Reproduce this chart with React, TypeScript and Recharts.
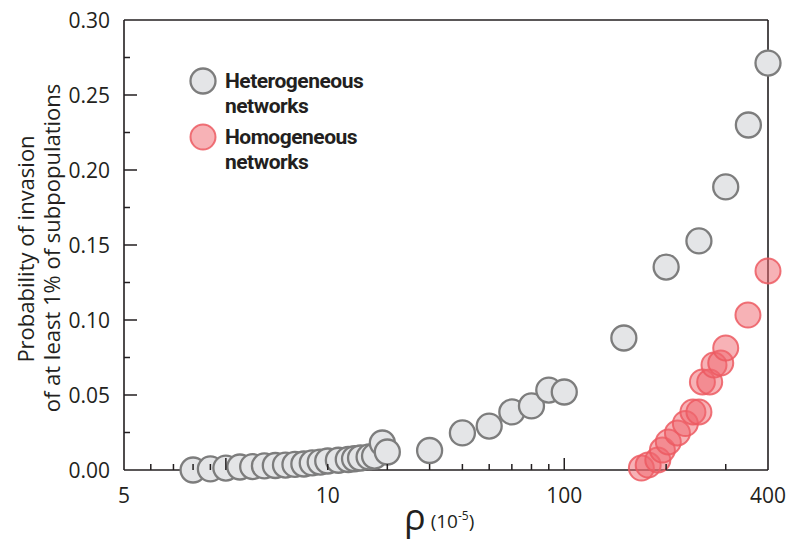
import { ScatterChart, Scatter, XAxis, YAxis, Legend } from "recharts";

// rho (10^-5) and invasion probability
const heteroRho = [8, 9, 10, 11, 12, 13, 14, 15, 16, 17, 18, 19, 20, 21.5, 23, 24, 25, 26.5, 27.5, 29, 30, 40, 50, 60, 70, 80, 90, 100, 150, 200, 250, 300, 350, 400];
const heteroProb = [0.0, 0.0007, 0.0013, 0.002, 0.0023, 0.0027, 0.003, 0.0033, 0.0037, 0.004, 0.0047, 0.0053, 0.006, 0.0065, 0.007, 0.0075, 0.008, 0.0087, 0.0093, 0.018, 0.012, 0.013, 0.0247, 0.0293, 0.0387, 0.0427, 0.0533, 0.052, 0.088, 0.1353, 0.1527, 0.1887, 0.23, 0.2713];

const homoRho = [169, 177, 189, 195, 203, 216, 228, 240, 250, 256, 269, 277, 290, 300, 349, 400];
const homoProb = [0.0013, 0.0033, 0.0067, 0.0133, 0.0187, 0.0247, 0.031, 0.0387, 0.0387, 0.0587, 0.0587, 0.07, 0.0713, 0.0813, 0.1033, 0.1327];

const seriesNames = ["Heterogeneous networks", "Homogeneous networks"];

const xTicks = [5, 6, 7, 8, 9, 10, 20, 30, 40, 50, 60, 70, 80, 90, 100, 200, 300, 400];
const xMajorTicks = [10, 100];
const xLabelValues = [5, 20, 100, 400];
const xLabelTexts = ["5", "10", "100", "400"];

const yTicks = [0, 0.025, 0.05, 0.075, 0.1, 0.125, 0.15, 0.175, 0.2, 0.225, 0.25, 0.275, 0.3];
const yMajorTicks = [0, 0.05, 0.1, 0.15, 0.2, 0.25, 0.3];

const heteroData = heteroRho.map((x, i) => ({ x, y: heteroProb[i] }));
const homoData = homoRho.map((x, i) => ({ x, y: homoProb[i] }));

const INK = "#231f20";
const FONT = "'Open Sans', sans-serif";
const R = 12.5;

const grayStyle = { fill: "#e4e5e7", stroke: "#7d7d7d", strokeWidth: 2.3 };
const redStyle = { fill: "#f0656d", fillOpacity: 0.5, stroke: "#ec5a62", strokeOpacity: 0.85, strokeWidth: 2 };

const BottomTick = ({ x, y, payload }: any) => {
    const v = payload.value;
    const len = xMajorTicks.includes(v) ? 12 : 6;
    const li = xLabelValues.indexOf(v);
    return (
        <g>
            {v !== 5 && v !== 400 && <line x1={x} x2={x} y1={y} y2={y - len} stroke={INK} strokeWidth={1.5} />}
            {li >= 0 && (
                <text x={x} y={y + 33} textAnchor="middle" fontFamily={FONT} fontSize={21} fill={INK}>
                    {xLabelTexts[li]}
                </text>
            )}
        </g>
    );
};

const TopTick = ({ x, y, payload }: any) => {
    const v = payload.value;
    if (v === 5 || v === 400) return null;
    const len = xMajorTicks.includes(v) ? 13 : 6;
    return <line x1={x} x2={x} y1={y} y2={y + len} stroke={INK} strokeWidth={1.5} />;
};

const LeftTick = ({ x, y, payload }: any) => {
    const v = payload.value;
    const major = yMajorTicks.includes(v);
    const len = major ? 13 : 6;
    return (
        <g>
            {v !== 0 && v !== 0.3 && <line x1={x} x2={x + len} y1={y} y2={y} stroke={INK} strokeWidth={1.5} />}
            {major && (
                <text x={x - 14} y={y + 7.5} textAnchor="end" fontFamily={FONT} fontSize={21} fill={INK}>
                    {v.toFixed(2)}
                </text>
            )}
        </g>
    );
};

const RightTick = ({ x, y, payload }: any) => {
    const v = payload.value;
    if (v === 0 || v === 0.3) return null;
    const len = yMajorTicks.includes(v) ? 12 : 6;
    return <line x1={x} x2={x - len} y1={y} y2={y} stroke={INK} strokeWidth={1.5} />;
};

const YTitle = () => (
    <g fontFamily={FONT} fontSize={22} fill={INK}>
        <text transform="translate(34,249) rotate(-90)" textAnchor="middle">Probability of invasion</text>
        <text transform="translate(60,248) rotate(-90)" textAnchor="middle">of at least 1% of subpopulations</text>
    </g>
);

const XTitle = () => (
    <text x={404} y={530} fontFamily={FONT} fill={INK}>
        <tspan fontSize={36}>ρ</tspan>
        <tspan fontSize={19} dx={5} dy={-2}>(10</tspan>
        <tspan fontSize={12} dy={-8}>-5</tspan>
        <tspan fontSize={19} dy={8}>)</tspan>
    </text>
);

const LegendBox = () => {
    const styles = [grayStyle, redStyle];
    const font = { fontFamily: "Roboto, sans-serif", fontWeight: 700, fontSize: 21, letterSpacing: -0.5, fill: INK };
    return (
        <svg width={220} height={125} style={{ display: "block" }}>
            {seriesNames.map((name, i) => {
                const [a, b] = name.split(" ");
                const top = i * 56;
                return (
                    <g key={name}>
                        <circle cx={15} cy={top + 21} r={R} {...styles[i]} />
                        <text x={37} y={top + 28} {...font}>{a}</text>
                        <text x={37} y={top + 53} {...font}>{b}</text>
                    </g>
                );
            })}
        </svg>
    );
};

export default function App() {
    const axisLine = { stroke: INK, strokeWidth: 1.6 };
    return (
        <div style={{ position: "absolute", left: 0, top: 0, width: 800, height: 551, background: "#fff" }}>
            <ScatterChart width={800} height={551} margin={{ top: 18, right: 30, bottom: 31, left: 64 }}>
                <XAxis dataKey="x" type="number" scale="log" domain={[5, 400]} ticks={xTicks} interval={0}
                    axisLine={axisLine} tickLine={false} tickSize={0} tickMargin={0} height={50}
                    tick={<BottomTick />} label={<XTitle />} />
                <XAxis xAxisId="top" orientation="top" type="number" scale="log" domain={[5, 400]} ticks={xTicks} interval={0}
                    axisLine={axisLine} tickLine={false} tickSize={0} tickMargin={0} height={2}
                    tick={<TopTick />} />
                <YAxis dataKey="y" type="number" domain={[0, 0.3]} ticks={yTicks} interval={0}
                    axisLine={axisLine} tickLine={false} tickSize={0} tickMargin={0} width={60}
                    tick={<LeftTick />} label={<YTitle />} />
                <YAxis yAxisId="right" orientation="right" type="number" domain={[0, 0.3]} ticks={yTicks} interval={0}
                    axisLine={axisLine} tickLine={false} tickSize={0} tickMargin={0} width={2}
                    tick={<RightTick />} />
                <Legend layout="vertical" align="center" verticalAlign="middle" content={<LegendBox />}
                    wrapperStyle={{ left: 188, top: 60, width: 220 }} />
                <Scatter name={seriesNames[0]} data={heteroData} isAnimationActive={false}
                    shape={(p: any) => <circle cx={p.cx} cy={p.cy} r={R} {...grayStyle} />} />
                <Scatter name={seriesNames[1]} data={homoData} isAnimationActive={false}
                    shape={(p: any) => <circle cx={p.cx} cy={p.cy} r={R} {...redStyle} />} />
            </ScatterChart>
        </div>
    );
}
